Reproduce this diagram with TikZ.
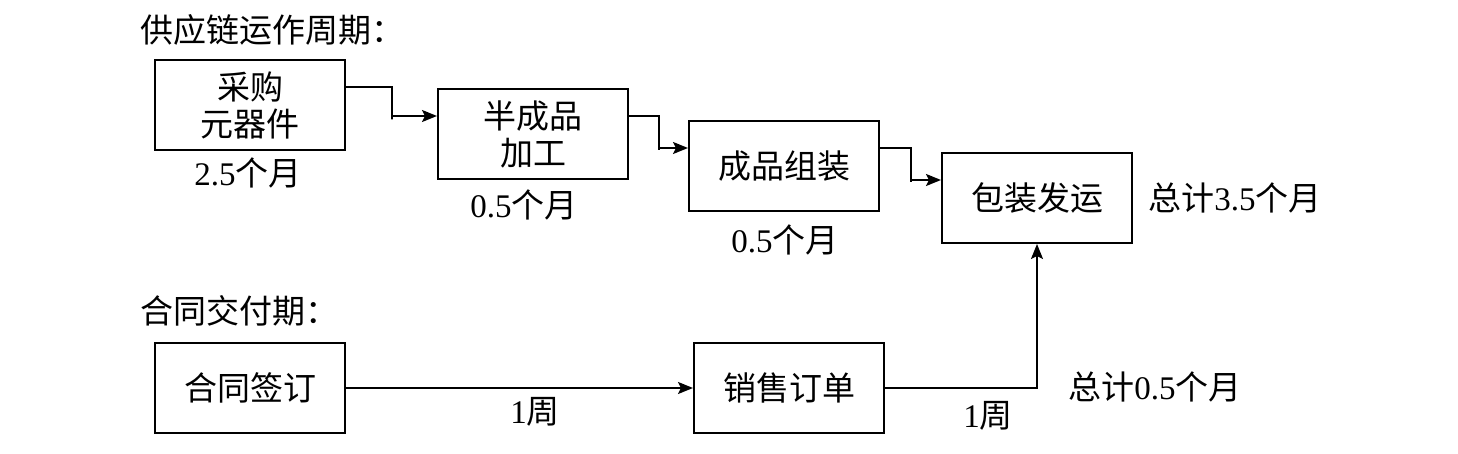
\documentclass[tikz,border=0pt]{standalone}
\usepackage{fontspec}
\setmainfont{Liberation Serif}
\newfontfamily\cjk{Noto Sans CJK SC}
\usepackage{tikz}
\usetikzlibrary{arrows.meta,calc}
\newcommand{\en}[1]{{\rmfamily #1}}

\begin{document}
\begin{tikzpicture}[x=0.5pt,y=-0.5pt,
  font=\cjk\fontsize{16.5}{18.5}\selectfont,
  stage/.style={draw,line width=1pt,minimum width=95pt,minimum height=45pt,inner sep=0pt,align=center},
  flow/.style={line width=1pt,-{Stealth[length=7.5pt,width=6pt,inset=1.5pt]}}]

\useasboundingbox (0,0) rectangle (1458,454);

% supply chain
\node[anchor=west,inner sep=0pt] (t1) at (140,30) {供应链运作周期：};

\node[stage] (b1) at (250,105) {采购\\元器件};
\node[stage] (b2) at (533,134) {半成品\\加工};
\node[stage] (b3) at (784,166) {成品组装};
\node[stage] (b4) at (1037,198) {包装发运};

\node (l1) at (248,173) {\en{2.5}个月};
\node (l2) at (524,205) {\en{0.5}个月};
\node (l3) at (785,240) {\en{0.5}个月};
\node (s1) at (1235,198) {总计\en{3.5}个月};

\draw[flow] ([yshift=9pt]b1.east) -| ($(b1.east)!0.5!(b2.west)$) |- ([yshift=9pt]b2.west);
\draw[flow] ([yshift=9pt]b2.east) -| ($(b2.east)!0.5!(b3.west)$) |- ([yshift=9pt]b3.west);
\draw[flow] ([yshift=9pt]b3.east) -| ($(b3.east)!0.5!(b4.west)$) |- ([yshift=9pt]b4.west);

% contract
\node[anchor=west,inner sep=0pt] (t2) at (140,311) {合同交付期：};

\node[stage] (b5) at (250,388) {合同签订};
\node[stage] (b6) at (789,388) {销售订单};

\node (w1) at (535,412) {\en{1}周};
\node (w2) at (988,416) {\en{1}周};
\node (s2) at (1155,387) {总计\en{0.5}个月};

\draw[flow] (b5) -- (b6);
\draw[flow] (b6.east) -| (b4.south);

\end{tikzpicture}
\end{document}
